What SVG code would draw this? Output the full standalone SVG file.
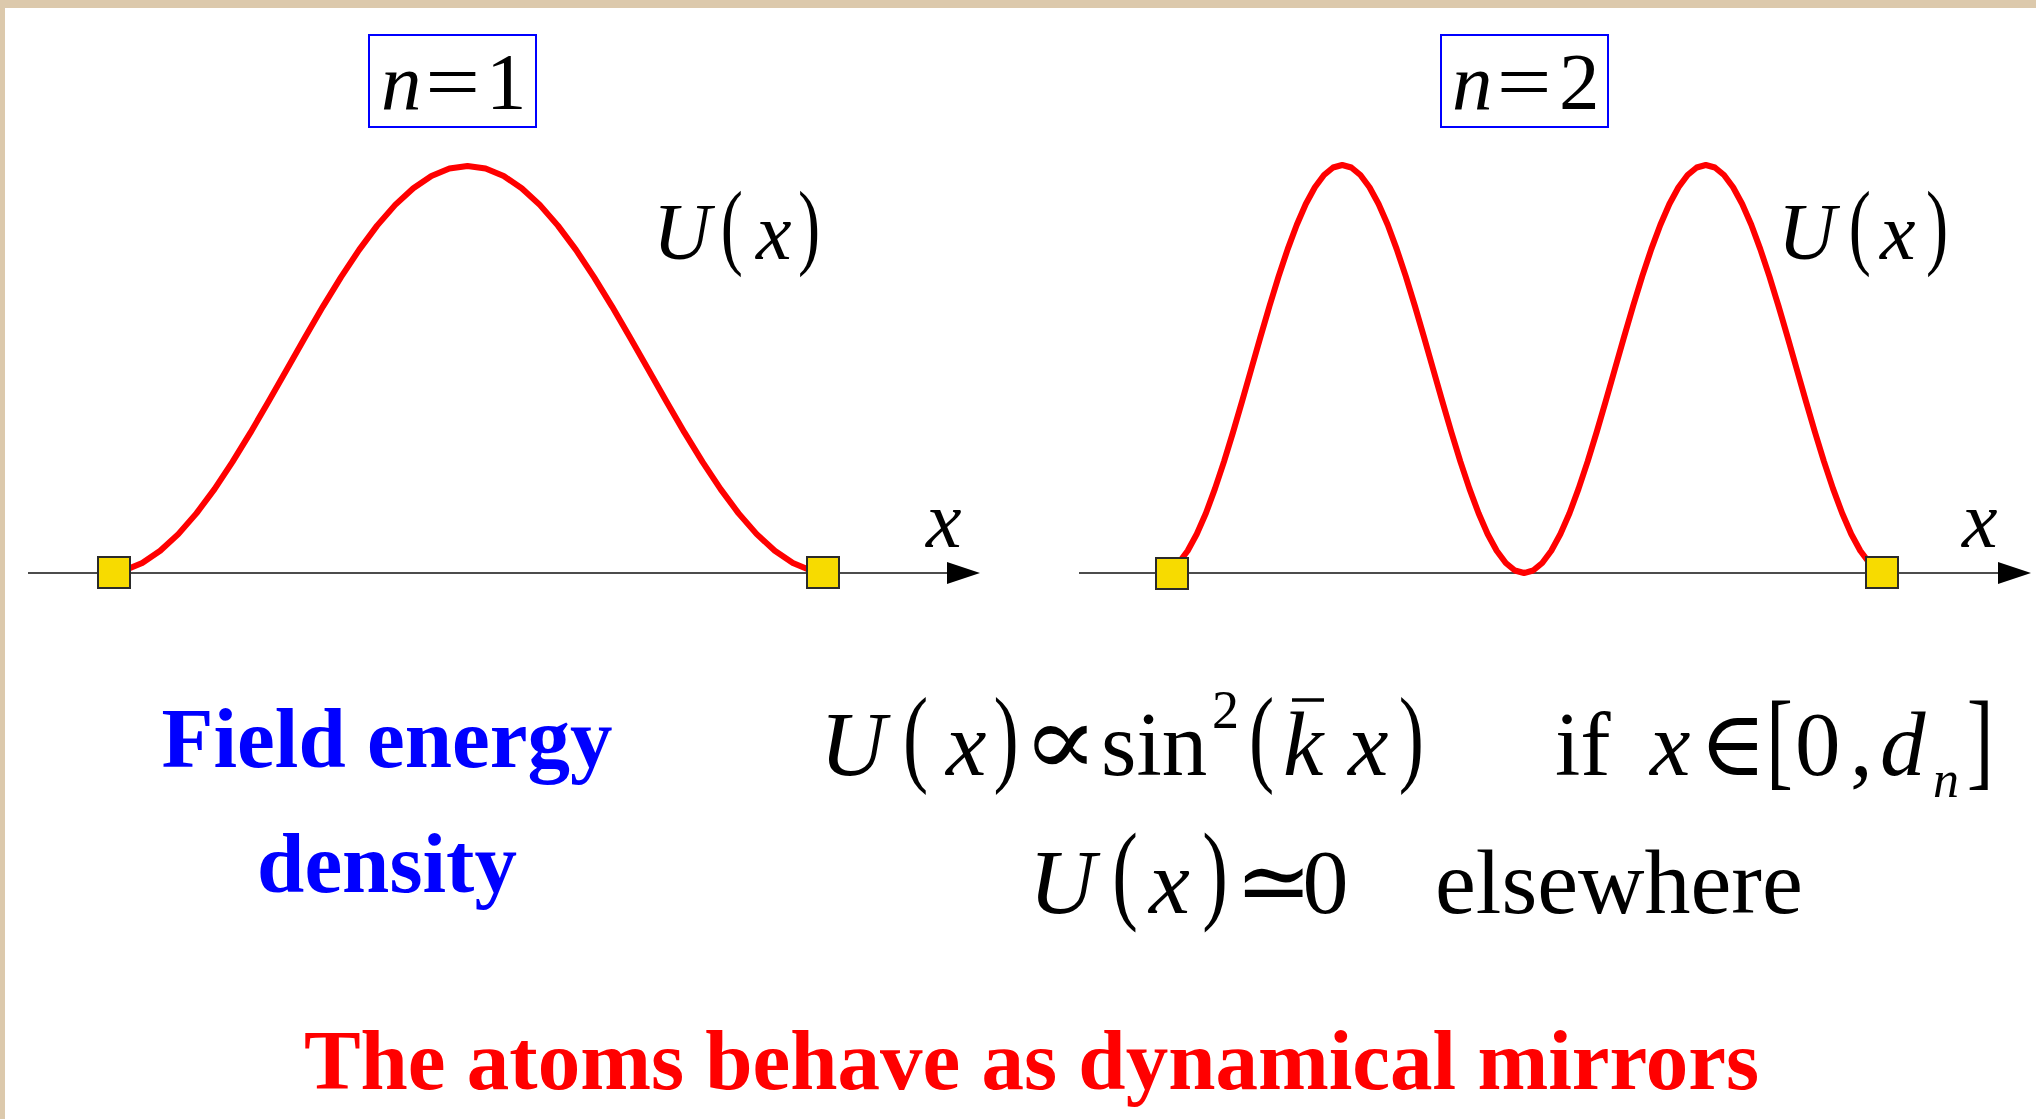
<svg xmlns="http://www.w3.org/2000/svg" width="2036" height="1119" viewBox="0 0 2036 1119">
<style>
.m{font-family:"Liberation Serif","DejaVu Serif",serif;fill:#000}
.i{font-style:italic}
.curve{fill:none;stroke:#FF0000;stroke-width:6;stroke-linejoin:round;stroke-linecap:round}
.axis{stroke:#111;stroke-width:1.5}
.atom{fill:#F7DB00;stroke:#2a2a2a;stroke-width:2}
.lbl{fill:none;stroke:#0000FF;stroke-width:2}
.bold{font-family:"Liberation Serif",serif;font-weight:bold}
</style>
<rect x="0" y="0" width="2036" height="1119" fill="#DCC9AC"/>
<rect x="5" y="8" width="2031" height="1111" fill="#FFFFFF"/>

<g id="connectors">
  <line class="axis" x1="28" y1="573" x2="955" y2="573"/>
  <polygon points="947,562 980,573 947,584" fill="#000"/>
  <line class="axis" x1="1079" y1="573" x2="2005" y2="573"/>
  <polygon points="1998,562 2031,573 1998,584" fill="#000"/>
</g>

<g id="curve1">
<polyline class="curve" points="106,573 124.1,570.5 142.2,563.0 160.2,550.8 178.3,534.1 196.4,513.4 214.5,489.1 232.5,461.9 250.6,432.4 268.7,401.3 286.8,369.5 304.8,337.7 322.9,306.6 341.0,277.1 359.1,249.9 377.1,225.6 395.2,204.9 413.3,188.2 431.4,176.0 449.4,168.5 467.5,166.0 485.6,168.5 503.7,176.0 521.7,188.2 539.8,204.9 557.9,225.6 576.0,249.9 594.0,277.1 612.1,306.6 630.2,337.7 648.3,369.5 666.3,401.3 684.4,432.4 702.5,461.9 720.6,489.1 738.6,513.4 756.7,534.1 774.8,550.8 792.9,563.0 810.9,570.5 829,573"/>
</g>
<g id="curve2">
<polyline class="curve" points="1160.4,573 1169.5,570.5 1178.6,563.0 1187.7,550.8 1196.8,534.0 1205.9,513.3 1214.9,488.9 1224.0,461.6 1233.1,432.0 1242.2,400.9 1251.3,369.0 1260.4,337.1 1269.5,306.0 1278.6,276.4 1287.7,249.1 1296.8,224.8 1305.8,204.0 1314.9,187.2 1324.0,175.0 1333.1,167.5 1342.2,165.0 1351.3,167.5 1360.4,175.0 1369.5,187.2 1378.6,204.0 1387.7,224.8 1396.7,249.1 1405.8,276.4 1414.9,306.0 1424.0,337.1 1433.1,369.0 1442.2,400.9 1451.3,432.0 1460.4,461.6 1469.5,488.9 1478.6,513.3 1487.6,534.0 1496.7,550.8 1505.8,563.0 1514.9,570.5 1524.0,573 1533.1,570.5 1542.2,563.0 1551.3,550.8 1560.4,534.0 1569.5,513.3 1578.5,488.9 1587.6,461.6 1596.7,432.0 1605.8,400.9 1614.9,369.0 1624.0,337.1 1633.1,306.0 1642.2,276.4 1651.3,249.1 1660.4,224.8 1669.4,204.0 1678.5,187.2 1687.6,175.0 1696.7,167.5 1705.8,165.0 1714.9,167.5 1724.0,175.0 1733.1,187.2 1742.2,204.0 1751.3,224.8 1760.3,249.1 1769.4,276.4 1778.5,306.0 1787.6,337.1 1796.7,369.0 1805.8,400.9 1814.9,432.0 1824.0,461.6 1833.1,488.9 1842.2,513.3 1851.2,534.0 1860.3,550.8 1869.4,563.0 1878.5,570.5 1887.6,573"/>
</g>

<g id="atom1a"><rect class="atom" x="98" y="557" width="32" height="31"/></g>
<g id="atom1b"><rect class="atom" x="807" y="557" width="32" height="31"/></g>
<g id="atom2a"><rect class="atom" x="1156" y="558" width="32" height="31"/></g>
<g id="atom2b"><rect class="atom" x="1866" y="557" width="32" height="31"/></g>

<g id="label-n1">
  <rect class="lbl" x="369" y="35" width="167" height="92"/>
  <text class="m i" x="381" y="109" font-size="81">n</text>
  <text class="m" transform="translate(425.3,109) scale(1.2,1)" font-size="81">=</text>
  <text class="m" x="486" y="109" font-size="81">1</text>
</g>
<g id="label-n2">
  <rect class="lbl" x="1441" y="35" width="167" height="92"/>
  <text class="m i" x="1452" y="109" font-size="81">n</text>
  <text class="m" transform="translate(1496.7,109) scale(1.2,1)" font-size="81">=</text>
  <text class="m" x="1559" y="109" font-size="81">2</text>
</g>

<g id="U1">
  <text class="m i" x="653" y="259" font-size="80">U</text>
  <text class="m" transform="translate(720.8,257) scale(0.7,1)" font-size="95">(</text>
  <text class="m i" x="756" y="259" font-size="80">x</text>
  <text class="m" transform="translate(798,257) scale(0.7,1)" font-size="95">)</text>
</g>
<g id="U2">
  <text class="m i" x="1778" y="259" font-size="80">U</text>
  <text class="m" transform="translate(1848.8,257) scale(0.7,1)" font-size="95">(</text>
  <text class="m i" x="1880" y="259" font-size="80">x</text>
  <text class="m" transform="translate(1926,257) scale(0.7,1)" font-size="95">)</text>
</g>

<g id="xlabel1"><text class="m i" x="926" y="547" font-size="80">x</text></g>
<g id="xlabel2"><text class="m i" x="1962" y="547" font-size="80">x</text></g>

<g id="field-energy">
  <text class="bold" x="387" y="767" font-size="85" fill="#0000FF" text-anchor="middle">Field energy</text>
  <text class="bold" x="387" y="892" font-size="85" fill="#0000FF" text-anchor="middle">density</text>
</g>

<g id="equation1">
  <text class="m i" x="820" y="775" font-size="91">U</text>
  <text class="m" transform="translate(903,772) scale(0.7,1)" font-size="108">(</text>
  <text class="m i" x="946" y="775" font-size="91">x</text>
  <text class="m" transform="translate(993.5,772) scale(0.7,1)" font-size="108">)</text>
  <text class="m" transform="translate(1022,775) scale(1.25,1.1)" font-size="91">∝</text>
  <text class="m" x="1101" y="775" font-size="91">sin</text>
  <text class="m" x="1212" y="728" font-size="54">2</text>
  <text class="m" transform="translate(1249,772) scale(0.7,1)" font-size="108">(</text>
  <text class="m i" x="1283" y="775" font-size="91">k</text>
  <line x1="1292" y1="700" x2="1324" y2="700" stroke="#000" stroke-width="3.5"/>
  <text class="m i" x="1348" y="775" font-size="91">x</text>
  <text class="m" transform="translate(1398.8,772) scale(0.7,1)" font-size="108">)</text>
  <text class="m" x="1555" y="775" font-size="91">if</text>
  <text class="m i" x="1650" y="775" font-size="91">x</text>
  <text class="m" x="1699" y="775" font-size="91">∈</text>
  <text class="m" transform="translate(1766,776) scale(0.75,1)" font-size="108">[</text>
  <text class="m" x="1795" y="775" font-size="91">0</text>
  <text class="m" x="1850" y="775" font-size="91">,</text>
  <text class="m i" x="1880" y="775" font-size="91">d</text>
  <text class="m i" x="1933" y="797" font-size="52">n</text>
  <text class="m" transform="translate(1966.8,776) scale(0.75,1)" font-size="108">]</text>
</g>

<g id="equation2">
  <text class="m i" x="1029" y="913" font-size="92">U</text>
  <text class="m" transform="translate(1112.3,909) scale(0.7,1)" font-size="110">(</text>
  <text class="m i" x="1149" y="913" font-size="92">x</text>
  <text class="m" transform="translate(1202.3,909) scale(0.7,1)" font-size="110">)</text>
  <text class="m" x="1235" y="913" font-size="92">≃</text>
  <text class="m" x="1302.5" y="913" font-size="92">0</text>
  <text class="m" x="1435" y="913" font-size="92">elsewhere</text>
</g>

<g id="conclusion">
  <text class="bold" x="1031.5" y="1089" font-size="85" fill="#FF0000" text-anchor="middle">The atoms behave as dynamical mirrors</text>
</g>
</svg>
